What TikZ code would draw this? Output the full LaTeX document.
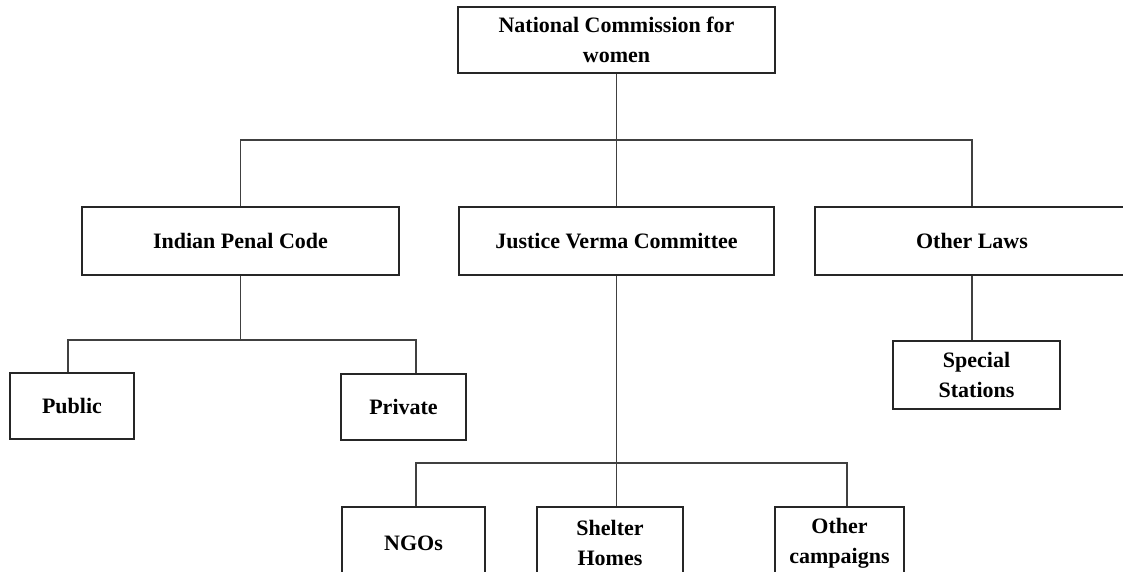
\documentclass[tikz,border=0pt]{standalone}
\usepackage{fontspec}
\setmainfont{Liberation Serif}

\begin{document}
\begin{tikzpicture}[x=0.75pt,y=-0.75pt,
  box/.style={draw=black!85,line width=1.1pt,align=center,inner sep=0pt,
    minimum height=49.5pt,font=\fontsize{16.5}{22.5}\selectfont\bfseries},
  link/.style={draw=black!75,line width=1.1pt}]
\useasboundingbox (0,0) rectangle (1123,571);

\node[box,minimum width=237.75pt] (ncw) at (616.5,40) {National Commission for\\women};

\node[box,minimum width=237.75pt,minimum height=51pt] (ipc) at (240.5,241) {Indian Penal Code};
\node[box,minimum width=236.25pt,minimum height=51pt] (jvc) at (616.5,241) {Justice Verma Committee};
\node[box,minimum width=235.5pt,minimum height=51pt] (laws) at (972,241) {Other Laws};

\node[box,minimum width=93pt] (public) at (72,406) {Public};
\node[box,minimum width=93.75pt] (private) at (403.5,407) {Private};
\node[box,minimum width=125.25pt,minimum height=51pt] (special) at (976.5,375) {Special\\Stations};

\node[box,minimum width=107.25pt,minimum height=54pt] (ngos) at (413.5,543) {NGOs};
\node[box,minimum width=109.5pt,minimum height=54pt] (shelter) at (610,543) {Shelter\\Homes};
\node[box,minimum width=96.75pt,minimum height=54pt] (campaigns) at (839.5,543) {Other\\campaigns};

% first level
\coordinate (top-bar) at (0,140);
\draw[link] (ncw.south) -- (ncw.south |- top-bar);
\draw[link] (ipc.north) |- (laws.north |- top-bar) -- (laws.north);
\draw[link] (jvc.north) -- (jvc.north |- top-bar);

% indian penal code
\coordinate (ipc-l) at (68,340);
\coordinate (ipc-r) at (416,340);
\draw[link] (ipc.south) -- (ipc.south |- ipc-l);
\draw[link] (ipc-l |- public.north) -- (ipc-l) -- (ipc-r) -- (ipc-r |- private.north);

% other laws
\draw[link] (laws.south) -- (laws.south |- special.north);

% justice verma committee
\coordinate (jvc-l) at (416,463);
\coordinate (jvc-r) at (847,463);
\draw[link] (jvc.south) -- (jvc.south |- shelter.north);
\draw[link] (jvc-l |- ngos.north) -- (jvc-l) -- (jvc-r) -- (jvc-r |- campaigns.north);
\end{tikzpicture}
\end{document}
